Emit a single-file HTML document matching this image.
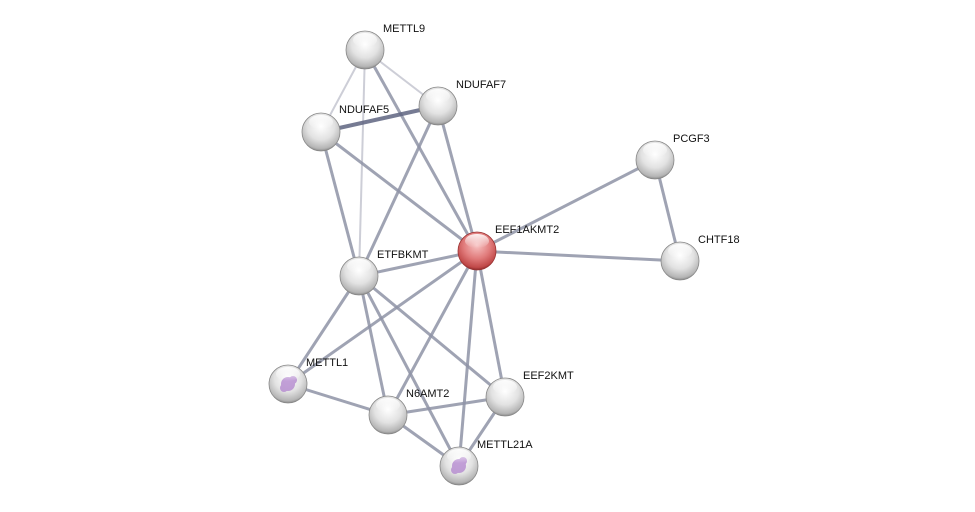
<!DOCTYPE html>
<html><head><style>
body{margin:0;background:#fff;}
svg{display:block;}
text{font-family:"Liberation Sans",sans-serif;font-size:11px;fill:#111;}
</style></head><body>
<svg width="975" height="512" viewBox="0 0 975 512">
<defs>
<radialGradient id="g" cx="0.5" cy="0.35" r="0.65">
<stop offset="0" stop-color="#ffffff"/><stop offset="0.55" stop-color="#e2e2e2"/><stop offset="0.9" stop-color="#b5b5b5"/><stop offset="1" stop-color="#8a8a8a"/>
</radialGradient>
<radialGradient id="r" cx="0.5" cy="0.35" r="0.65">
<stop offset="0" stop-color="#f7c2c2"/><stop offset="0.55" stop-color="#e07a7a"/><stop offset="0.9" stop-color="#c04848"/><stop offset="1" stop-color="#8a2a2a"/>
</radialGradient>
<linearGradient id="hl" x1="0" y1="0" x2="0" y2="1"><stop offset="0" stop-color="#fff" stop-opacity="0.9"/><stop offset="1" stop-color="#fff" stop-opacity="0"/></linearGradient>
</defs>
<g stroke="#8e93a6" stroke-width="3" stroke-opacity="0.85">
<line x1="365" y1="50" x2="321" y2="132" stroke="#c4c6d0" stroke-width="2"/>
<line x1="365" y1="50" x2="438" y2="106" stroke="#c4c6d0" stroke-width="2"/>
<line x1="365" y1="50" x2="359" y2="276" stroke="#c4c6d0" stroke-width="2"/>
<line x1="365" y1="50" x2="477" y2="251"/>
<line x1="321" y1="132" x2="438" y2="106" stroke="#5e6480" stroke-width="4"/>
<line x1="321" y1="132" x2="477" y2="251"/>
<line x1="321" y1="132" x2="359" y2="276"/>
<line x1="438" y1="106" x2="477" y2="251"/>
<line x1="438" y1="106" x2="359" y2="276"/>
<line x1="655" y1="160" x2="477" y2="251"/>
<line x1="655" y1="160" x2="680" y2="261"/>
<line x1="477" y1="251" x2="680" y2="261"/>
<line x1="359" y1="276" x2="477" y2="251"/>
<line x1="359" y1="276" x2="288" y2="384"/>
<line x1="359" y1="276" x2="388" y2="415"/>
<line x1="359" y1="276" x2="505" y2="397"/>
<line x1="359" y1="276" x2="459" y2="466"/>
<line x1="477" y1="251" x2="288" y2="384"/>
<line x1="477" y1="251" x2="388" y2="415"/>
<line x1="477" y1="251" x2="505" y2="397"/>
<line x1="477" y1="251" x2="459" y2="466"/>
<line x1="288" y1="384" x2="388" y2="415"/>
<line x1="388" y1="415" x2="505" y2="397"/>
<line x1="388" y1="415" x2="459" y2="466"/>
<line x1="505" y1="397" x2="459" y2="466"/>
</g>
<g>
<g id="n"></g>
</g>
<g stroke="#888" stroke-width="0.8">
<circle cx="365" cy="50" r="19" fill="url(#g)"/>
<circle cx="438" cy="106" r="19" fill="url(#g)"/>
<circle cx="321" cy="132" r="19" fill="url(#g)"/>
<circle cx="655" cy="160" r="19" fill="url(#g)"/>
<circle cx="477" cy="251" r="19" fill="url(#r)" stroke="#933"/>
<circle cx="680" cy="261" r="19" fill="url(#g)"/>
<circle cx="359" cy="276" r="19" fill="url(#g)"/>
<circle cx="288" cy="384" r="19" fill="url(#g)"/>
<circle cx="505" cy="397" r="19" fill="url(#g)"/>
<circle cx="388" cy="415" r="19" fill="url(#g)"/>
<circle cx="459" cy="466" r="19" fill="url(#g)"/>
</g>
<g fill="#b58ad0" opacity="0.8">
<circle cx="288" cy="384" r="7"/><circle cx="284" cy="388" r="4"/><circle cx="293" cy="380" r="4"/>
<circle cx="459" cy="466" r="7"/><circle cx="455" cy="470" r="4"/><circle cx="463" cy="461" r="4"/>
</g>
<g fill="url(#hl)">
<ellipse cx="365" cy="40" rx="12" ry="7"/><ellipse cx="438" cy="96" rx="12" ry="7"/>
<ellipse cx="321" cy="122" rx="12" ry="7"/><ellipse cx="655" cy="150" rx="12" ry="7"/>
<ellipse cx="477" cy="241" rx="12" ry="7"/><ellipse cx="680" cy="251" rx="12" ry="7"/>
<ellipse cx="359" cy="266" rx="12" ry="7"/><ellipse cx="288" cy="374" rx="12" ry="7"/>
<ellipse cx="505" cy="387" rx="12" ry="7"/><ellipse cx="388" cy="405" rx="12" ry="7"/>
<ellipse cx="459" cy="456" rx="12" ry="7"/>
</g>
<text x="383" y="32">METTL9</text>
<text x="456" y="88">NDUFAF7</text>
<text x="339" y="113">NDUFAF5</text>
<text x="673" y="142">PCGF3</text>
<text x="495" y="233">EEF1AKMT2</text>
<text x="698" y="243">CHTF18</text>
<text x="377" y="258">ETFBKMT</text>
<text x="306" y="366">METTL1</text>
<text x="523" y="379">EEF2KMT</text>
<text x="406" y="397">N6AMT2</text>
<text x="477" y="448">METTL21A</text>
</svg>
</body></html>
